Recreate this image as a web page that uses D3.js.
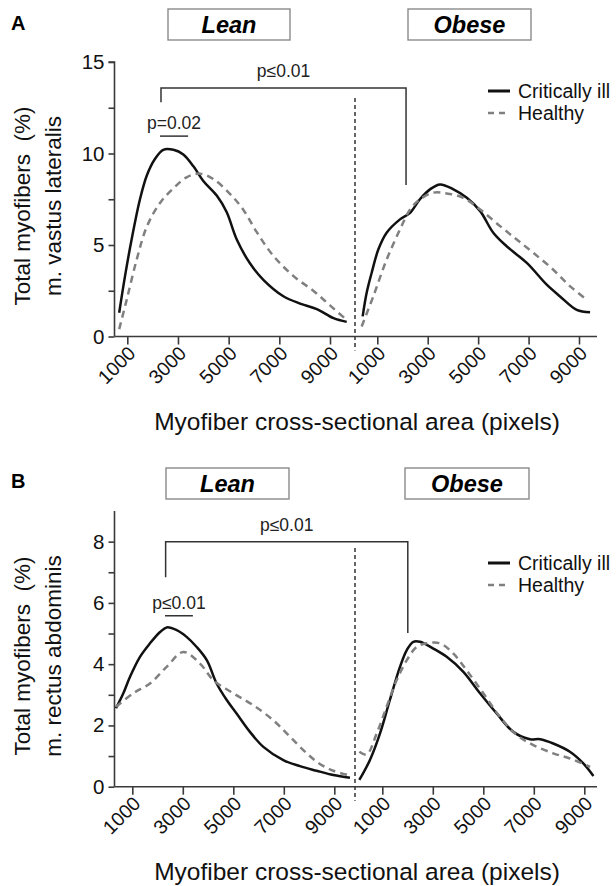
<!DOCTYPE html>
<html><head><meta charset="utf-8">
<script src="https://cdn.jsdelivr.net/npm/d3@7"></script>
<style>body{margin:0;background:#fff}svg{display:block}text{font-family:"Liberation Sans",Arial,sans-serif}</style>
</head><body>
<svg id="c" width="616" height="886"></svg>
<script>
// ---------- DATA ----------
const xTicks = [1000, 3000, 5000, 7000, 9000];
const yTicksA = [0, 2.5, 5, 7.5, 10, 12.5, 15];
const yLabelsA = [0, 5, 10, 15];
const yTicksB = [0, 1, 2, 3, 4, 5, 6, 7, 8];
const yLabelsB = [0, 2, 4, 6, 8];
const groups = ["Lean", "Obese"];
const seriesNames = ["Critically ill", "Healthy"];

// Panel A: m. vastus lateralis
const aLeanIllX = [680, 910, 1170, 1500, 1770, 2090, 2420, 2820, 3210, 3610, 4000, 4530, 4920, 5320, 5840, 6370, 7160, 7820, 8480, 9140, 9660];
const aLeanIllY = [1.3, 3.3, 5.3, 7.5, 8.8, 9.7, 10.2, 10.2, 9.95, 9.3, 8.5, 7.7, 6.8, 5.3, 4.0, 3.1, 2.2, 1.8, 1.5, 1.0, 0.8];
const aLeanHeaX = [680, 975, 1370, 1770, 2290, 2820, 3340, 3870, 4400, 5050, 5590, 6110, 6770, 7560, 8340, 9000, 9660];
const aLeanHeaY = [0.4, 2.0, 4.2, 6.0, 7.3, 8.1, 8.7, 8.9, 8.6, 7.8, 6.9, 5.7, 4.4, 3.3, 2.5, 1.7, 0.9];
const aObIllX = [420, 580, 780, 1040, 1370, 1900, 2300, 2690, 3090, 3490, 4020, 4550, 5080, 5600, 6130, 6930, 7720, 8250, 8910, 9440];
const aObIllY = [1.1, 2.4, 3.5, 4.75, 5.67, 6.4, 6.76, 7.5, 8.04, 8.31, 8.04, 7.58, 6.85, 5.67, 4.93, 4.02, 2.83, 2.19, 1.46, 1.33];
const aObHeaX = [380, 840, 1370, 1900, 2300, 2690, 3220, 3750, 4410, 5080, 5870, 6530, 7190, 7980, 8650, 9310];
const aObHeaY = [0.55, 2.19, 4.2, 5.85, 6.94, 7.49, 7.86, 7.82, 7.58, 6.94, 6.03, 5.3, 4.57, 3.65, 2.74, 2.01];

// Panel B: m. rectus abdominis
const bLeanIllX = [355, 645, 910, 1305, 1700, 2100, 2360, 2760, 3150, 3550, 3950, 4340, 4740, 5130, 5660, 6190, 6980, 7640, 8300, 8960, 9620];
const bLeanIllY = [2.56, 3.05, 3.59, 4.24, 4.68, 5.05, 5.2, 5.11, 4.89, 4.56, 4.13, 3.37, 2.83, 2.39, 1.79, 1.3, 0.87, 0.67, 0.52, 0.38, 0.29];
const bLeanHeaX = [355, 1040, 1700, 2360, 3020, 3680, 4210, 5000, 5790, 6580, 7250, 7910, 8430, 8960, 9550];
const bLeanHeaY = [2.61, 3.05, 3.37, 3.91, 4.4, 4.02, 3.48, 3.05, 2.66, 2.17, 1.63, 1.09, 0.74, 0.52, 0.38];
const bObIllX = [90, 510, 910, 1300, 1700, 1970, 2230, 2490, 3020, 3550, 4210, 4870, 5530, 6190, 6850, 7250, 7770, 8430, 8960, 9360];
const bObIllY = [0.22, 0.87, 1.74, 2.83, 3.91, 4.46, 4.73, 4.73, 4.51, 4.24, 3.75, 3.05, 2.39, 1.79, 1.55, 1.55, 1.41, 1.14, 0.76, 0.35];
const bObHeaX = [90, 380, 780, 1170, 1570, 1970, 2360, 2760, 3290, 3810, 4340, 5000, 5660, 6320, 6980, 7770, 8430, 9230];
const bObHeaY = [1.14, 1.05, 1.74, 2.61, 3.48, 4.13, 4.56, 4.68, 4.68, 4.35, 3.8, 3.05, 2.28, 1.69, 1.36, 1.09, 0.92, 0.65];

// ---------- DRAW ----------
const svg = d3.select("#c");
const axisColor = "#3a3a3a";

function panel(cfg) {
  const g = svg.append("g");
  const y = d3.scaleLinear().domain(cfg.yDomain).range([cfg.y0, cfg.yTop]);
  const xL = d3.scaleLinear().domain([1000, 9000]).range(cfg.leanRange);
  const xO = d3.scaleLinear().domain([1000, 9000]).range(cfg.obRange);

  // panel letter
  g.append("text").attr("x", 11).attr("y", cfg.letterY).attr("font-size", 20).attr("font-weight", "bold").text(cfg.letter);
  // group boxes
  cfg.boxes.forEach((b, i) => {
    g.append("rect").attr("x", b[0]).attr("y", cfg.boxY).attr("width", b[1] - b[0]).attr("height", 31)
      .attr("fill", "#fff").attr("stroke", "#8a8a8a").attr("stroke-width", 1.4);
    g.append("text").attr("x", (b[0] + b[1]) / 2).attr("y", cfg.boxY + 24).attr("text-anchor", "middle")
      .attr("font-size", 23.5).attr("font-weight", "bold").attr("font-style", "italic").text(groups[i]);
  });

  // y axis
  const yAx = d3.axisLeft(y).tickValues(cfg.yTicks).tickSize(6).tickPadding(4)
    .tickFormat(d => cfg.yLabels.includes(d) ? d : "");
  const ya = g.append("g").attr("transform", `translate(${cfg.xAxis},0)`).call(yAx);
  ya.select(".domain").attr("stroke", axisColor).attr("stroke-width", 1.6).attr("d", `M-6,${y(cfg.yDomain[1])}H0V${cfg.y0}`);
  ya.selectAll(".tick line").attr("stroke", axisColor).attr("stroke-width", 1.6);
  ya.selectAll(".tick text").attr("font-size", 20.5).attr("fill", "#111").attr("font-family", "Liberation Sans, Arial, sans-serif");
  if (cfg.noTopTick) ya.select(".domain").attr("d", `M0,${cfg.yTop}V${cfg.y0}`);

  // x axis line
  g.append("line").attr("x1", cfg.xAxis).attr("x2", cfg.xEnd).attr("y1", cfg.y0).attr("y2", cfg.y0)
    .attr("stroke", axisColor).attr("stroke-width", 1.6);
  [xL, xO].forEach(sc => {
    const xa = g.append("g").attr("transform", `translate(0,${cfg.y0})`)
      .call(d3.axisBottom(sc).tickValues(xTicks).tickSize(8).tickFormat(d3.format("d")));
    xa.select(".domain").remove();
    xa.selectAll(".tick line").attr("stroke", axisColor).attr("stroke-width", 1.6);
    xa.selectAll(".tick text").attr("font-size", 19.5).attr("fill", "#111")
      .attr("font-family", "Liberation Sans, Arial, sans-serif")
      .attr("text-anchor", "end").attr("dy", null).attr("y", 0)
      .attr("transform", "translate(9,18) rotate(-45)");
  });

  // divider
  g.append("line").attr("x1", cfg.divX).attr("x2", cfg.divX).attr("y1", cfg.divTop).attr("y2", cfg.y0 + 14)
    .attr("stroke", "#333").attr("stroke-width", 1.5).attr("stroke-dasharray", "4,3");

  // curves
  const line = (sc) => d3.line().x(d => sc(d[0])).y(d => y(d[1])).curve(d3.curveCatmullRom.alpha(0.5));
  const zip = (a, b) => a.map((v, i) => [v, b[i]]);
  const styles = [{ stroke: "#111", dash: null }, { stroke: "#808080", dash: "7,5" }];
  cfg.series.forEach(s => {
    const st = styles[s.kind];
    g.append("path").datum(zip(s.x, s.y)).attr("d", line(s.group === 0 ? xL : xO)(zip(s.x, s.y)))
      .attr("fill", "none").attr("stroke", st.stroke).attr("stroke-width", 2.5)
      .attr("stroke-dasharray", st.dash).attr("stroke-linejoin", "round");
  });

  // big bracket
  const br = cfg.bracket;
  g.append("path").attr("d", `M${xL(br.lx)},${y(br.lb)}V${y(br.top)}H${xO(br.rx)}V${y(br.rb)}`)
    .attr("fill", "none").attr("stroke", "#333").attr("stroke-width", 1.5);
  g.append("text").attr("x", (xL(br.lx) + xO(br.rx)) / 2).attr("y", y(br.top) - 11).attr("text-anchor", "middle")
    .attr("font-size", 17.5).attr("fill", "#222").text(br.label);
  // small bracket
  const sb = cfg.small;
  g.append("line").attr("x1", xL(sb.x1)).attr("x2", xL(sb.x2)).attr("y1", y(sb.yv)).attr("y2", y(sb.yv))
    .attr("stroke", "#333").attr("stroke-width", 1.5);
  g.append("text").attr("x", (xL(sb.x1) + xL(sb.x2)) / 2).attr("y", y(sb.yv) - 7).attr("text-anchor", "middle")
    .attr("font-size", 17.5).attr("fill", "#222").text(sb.label);

  // legend
  seriesNames.forEach((n, i) => {
    const ly = cfg.legY + i * 22;
    g.append("line").attr("x1", 488).attr("x2", 510).attr("y1", ly).attr("y2", ly)
      .attr("stroke", styles[i].stroke).attr("stroke-width", i === 0 ? 3 : 2.4).attr("stroke-dasharray", i === 0 ? null : "6,5");
    g.append("text").attr("x", 518).attr("y", ly + 7).attr("font-size", 19.5).attr("fill", "#111").text(n);
  });

  // axis titles
  const cx1 = 22, cx2 = 53;
  g.append("text").attr("transform", `translate(${cx1 + 8},${cfg.yTitleC}) rotate(-90)`).attr("text-anchor", "middle")
    .attr("font-size", 22.5).attr("fill", "#111").attr("xml:space", "preserve").text("Total myofibers  (%)");
  g.append("text").attr("transform", `translate(${cx2 + 8},${cfg.yTitleC}) rotate(-90)`).attr("text-anchor", "middle")
    .attr("font-size", 22.5).attr("fill", "#111").text(cfg.muscle);
  g.append("text").attr("x", 357).attr("y", cfg.xTitleY).attr("text-anchor", "middle")
    .attr("font-size", 24.5).attr("fill", "#111").text("Myofiber cross-sectional area (pixels)");
}

panel({
  letter: "A", letterY: 30, boxY: 9, boxes: [[168, 290], [408, 531]],
  yDomain: [0, 15], y0: 336.5, yTop: 62, yTicks: yTicksA, yLabels: yLabelsA,
  xAxis: 114.5, xEnd: 597, leanRange: [127.3, 330], obRange: [377.3, 579], divX: 355, divTop: 98,
  series: [
    { group: 0, kind: 0, x: aLeanIllX, y: aLeanIllY }, { group: 0, kind: 1, x: aLeanHeaX, y: aLeanHeaY },
    { group: 1, kind: 0, x: aObIllX, y: aObIllY }, { group: 1, kind: 1, x: aObHeaX, y: aObHeaY }],
  bracket: { lx: 2330, rx: 2140, top: 13.58, lb: 12.8, rb: 8.28, label: "p\u22640.01" },
  small: { x1: 2290, x2: 3400, yv: 10.95, label: "p=0.02" },
  legY: 91, yTitleC: 206, muscle: "m. vastus lateralis", xTitleY: 430
});

panel({
  letter: "B", letterY: 488, boxY: 468, boxes: [[166, 289], [405, 529]],
  yDomain: [0, 9], y0: 786.7, yTop: 511, yTicks: yTicksB, yLabels: yLabelsB, noTopTick: true,
  xAxis: 114.5, xEnd: 597, leanRange: [132.3, 334.3], obRange: [382.3, 584.3], divX: 355, divTop: 548,
  series: [
    { group: 0, kind: 0, x: bLeanIllX, y: bLeanIllY }, { group: 0, kind: 1, x: bLeanHeaX, y: bLeanHeaY },
    { group: 1, kind: 0, x: bObIllX, y: bObIllY }, { group: 1, kind: 1, x: bObHeaX, y: bObHeaY }],
  bracket: { lx: 2320, rx: 2010, top: 8.0, lb: 6.84, rb: 5.02, label: "p\u22640.01" },
  small: { x1: 2295, x2: 3400, yv: 5.58, label: "p\u22640.01" },
  legY: 563, yTitleC: 656, muscle: "m. rectus abdominis", xTitleY: 880
});
</script>
</body></html>
